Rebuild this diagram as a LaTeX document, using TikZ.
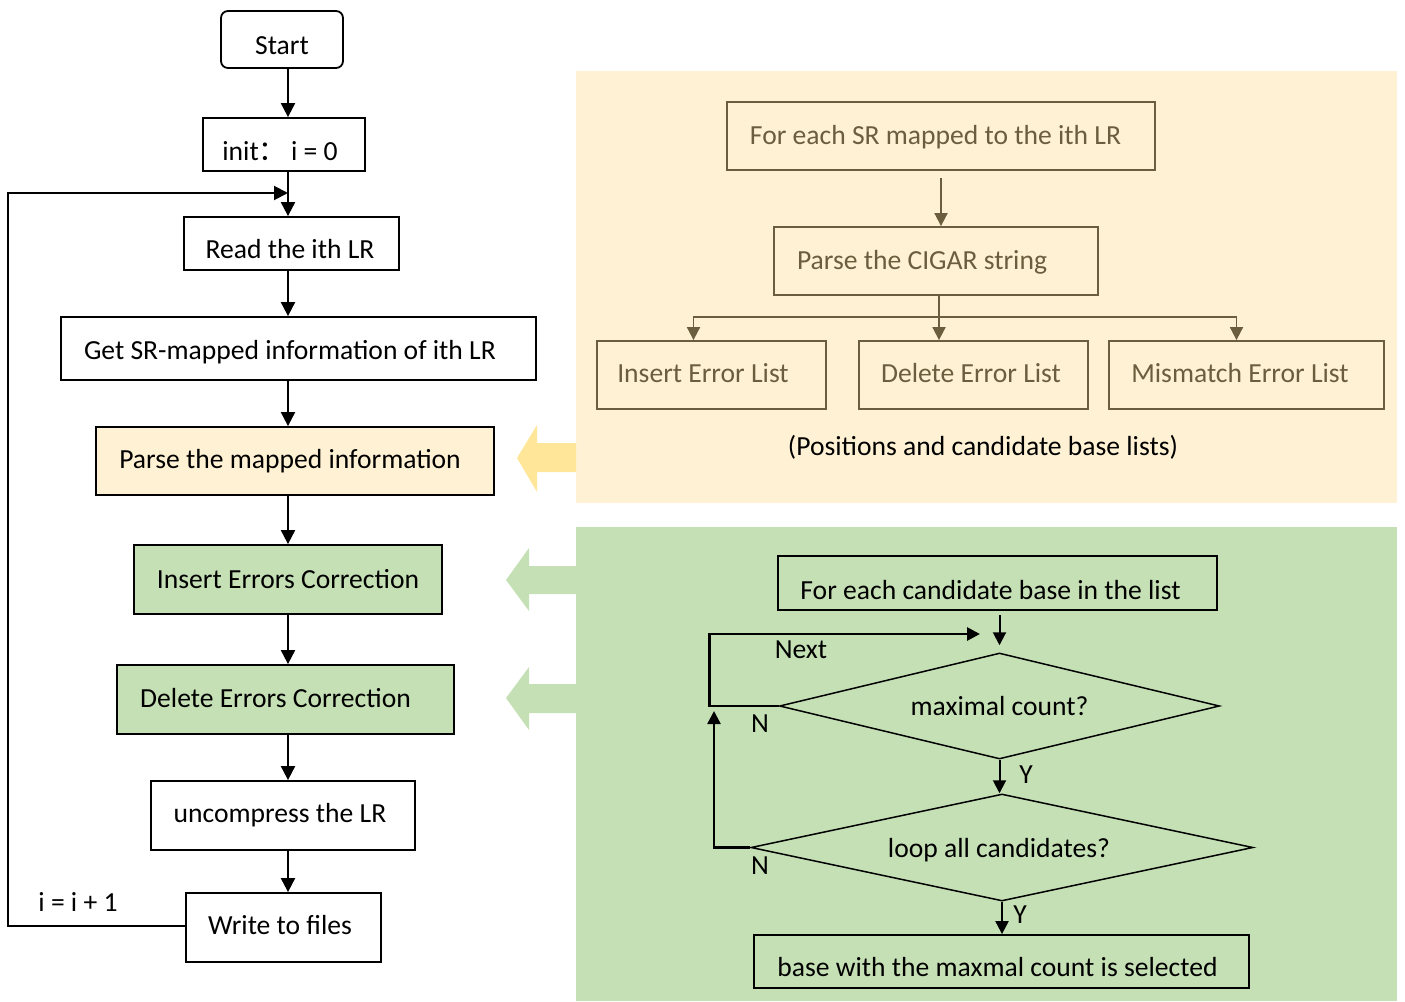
\documentclass[tikz,border=0pt]{standalone}
\usepackage{fontspec}
\setmainfont{Carlito}
\newfontfamily\cjk{Noto Sans CJK SC}
\usetikzlibrary{shapes.geometric,arrows.meta,calc}
\definecolor{ypanel}{HTML}{FFF2D4}
\definecolor{yarrow}{HTML}{FFE699}
\definecolor{gpanel}{HTML}{C5E0B4}
\definecolor{brn}{HTML}{6B5E3E}
% shift text inside a node: #1 horizontal (positive = right), #2 vertical (positive = down)
\newcommand\shtxt[3]{\raisebox{-#2}[\height][\depth]{\hspace*{#1}#3\hspace*{-#1}}}
\begin{document}
\begin{tikzpicture}[x=1pt,y=-1pt,
  font=\fontsize{27.6}{33}\selectfont,
  box/.style={draw=black,line width=1.8pt,inner sep=0pt,text=black},
  ybox/.style={draw=brn,line width=1.8pt,inner sep=0pt,text=brn},
  dia/.style={diamond,draw=black,line width=1.5pt,inner sep=0pt},
  arr/.style={line width=2pt,-{Triangle[width=14pt,length=14pt]}},
  yarr/.style={draw=brn,line width=1.8pt,-{Triangle[width=13pt,length=13pt]}},
  garr/.style={line width=2pt,-{Triangle[width=13pt,length=13pt]}},
  lbl/.style={inner sep=0pt}
]
\useasboundingbox (0,0) rectangle (1405,1001);
% panels
\fill[ypanel] (576,71) rectangle (1397,503);
\fill[gpanel] (576,527) rectangle (1397,1001);
% block arrows
\fill[yarrow] (517,458) -- (537,425) -- (537,443) -- (576,443) -- (576,472) -- (537,472) -- (537,492) -- cycle;
\fill[gpanel] (506,580) -- (529,548) -- (529,566) -- (576,566) -- (576,594) -- (529,594) -- (529,611) -- cycle;
\fill[gpanel] (506,698) -- (529,667) -- (529,684) -- (576,684) -- (576,713) -- (529,713) -- (529,730) -- cycle;

% left flow
\node[box,rounded corners=7pt,minimum width=122pt,minimum height=57pt] (start) at (282,39.5) {\shtxt{0pt}{6pt}{Start}};
\node[box,minimum width=162pt,minimum height=53pt] (init) at (284,144.5) {\shtxt{-4pt}{7pt}{init{\cjk ：}\,i = 0}};
\node[box,minimum width=215pt,minimum height=53pt] (read) at (291.5,243.5) {\shtxt{-1.5pt}{6pt}{Read the ith LR}};
\node[box,minimum width=475pt,minimum height=63pt] (get) at (298.5,348.5) {\shtxt{-8.5pt}{4pt}{Get SR-mapped information of ith LR}};
\node[box,fill=ypanel,minimum width=398pt,minimum height=68pt] (parse) at (295,461) {\shtxt{-5pt}{0pt}{Parse the mapped information}};
\node[box,fill=gpanel,minimum width=308pt,minimum height=69pt] (ins) at (288,579.5) {Insert Errors Correction};
\node[box,fill=gpanel,minimum width=337pt,minimum height=69pt] (del) at (285.5,699.5) {\shtxt{-10pt}{-1pt}{Delete Errors Correction}};
\node[box,minimum width=264pt,minimum height=69pt] (unc) at (283,815.5) {\shtxt{-3pt}{0pt}{uncompress the LR}};
\node[box,minimum width=195pt,minimum height=69pt] (write) at (283.5,927.5) {\shtxt{-3.5pt}{-2pt}{Write to files}};
\coordinate (spine) at (288,0);
\draw[arr] (start.south -| spine) -- (init.north -| spine);
\draw[arr] (init.south -| spine) -- (read.north -| spine);
\draw[arr] (read.south -| spine) -- (get.north -| spine);
\draw[arr] (get.south -| spine) -- (parse.north -| spine);
\draw[arr] (parse.south -| spine) -- (ins.north -| spine);
\draw[arr] (ins.south -| spine) -- (del.north -| spine);
\draw[arr] (del.south -| spine) -- (unc.north -| spine);
\draw[arr] (unc.south -| spine) -- (write.north -| spine);
\coordinate (lp) at (8,193);
\draw[arr] ([yshift=2pt]write.west) -| (lp) -- (lp -| spine);
\node[lbl] (inc) at (78,902) {i = i + 1};

% yellow panel
\node[ybox,minimum width=428pt,minimum height=68pt] (b1) at (941,136) {\shtxt{-5.5pt}{1pt}{For each SR mapped to the ith LR}};
\node[ybox,minimum width=324pt,minimum height=68pt] (b2) at (936,261) {\shtxt{-14pt}{1pt}{Parse the CIGAR string}};
\node[ybox,minimum width=229pt,minimum height=68pt] (bA) at (711.5,375) {\shtxt{-8.5pt}{-2pt}{Insert Error List}};
\node[ybox,minimum width=229pt,minimum height=68pt] (bB) at (973.5,375) {\shtxt{-2.5pt}{-2pt}{Delete Error List}};
\node[ybox,minimum width=275pt,minimum height=68pt] (bC) at (1246.5,375) {\shtxt{-6.5pt}{-2pt}{Mismatch Error List}};
\node[lbl] (pos) at (983,447) {(Positions and candidate base lists)};
\draw[yarr,shorten <=7pt] (b1.south) -- (b1.south |- b2.north);
\coordinate (jn) at (939,317);
\draw[yarr] (b2.south -| jn) -- (jn) -- (jn |- bB.north);
\draw[yarr] (jn) -| ([xshift=-18pt]bA.north);
\draw[yarr] (jn) -| ([xshift=-10pt]bC.north);

% green panel
\node[box,minimum width=439pt,minimum height=54pt] (fc) at (997.5,583) {\shtxt{-7pt}{7pt}{For each candidate base in the list}};
\node[dia,minimum width=440pt,minimum height=106pt,aspect=4.15] (d1) at (999.5,706) {maximal count?};
\node[dia,minimum width=502pt,minimum height=107pt,aspect=4.7] (d2) at (1002,847.5) {\shtxt{-3pt}{3pt}{loop all candidates?}};
\node[box,minimum width=495pt,minimum height=53pt] (fin) at (1001.5,961.5) {\shtxt{-4pt}{6pt}{base with the maxmal count is selected}};
\draw[garr,shorten <=4pt,shorten >=7pt] (fc.south -| d1.north) -- (d1.north);
\coordinate (nx) at (980,634);
\draw[garr,line width=2.8pt] (d1.west) -- ++(-69,0) |- (nx);
\coordinate (up) at (714,711);
\draw[garr,line width=2.4pt] (d2.west) -- (up |- d2.west) -- (up);
\draw[garr] (d1.south) -- (d1.south |- d2.north);
\draw[garr] (d2.south) -- (d2.south |- fin.north);
\node[lbl] (nextl) at (801,650) {Next};
\node[lbl] (n1) at (760,724) {N};
\node[lbl] (n2) at (760,866) {N};
\node[lbl] (y1) at (1026,775) {Y};
\node[lbl] (y2) at (1020,915) {Y};
\end{tikzpicture}
\end{document}
